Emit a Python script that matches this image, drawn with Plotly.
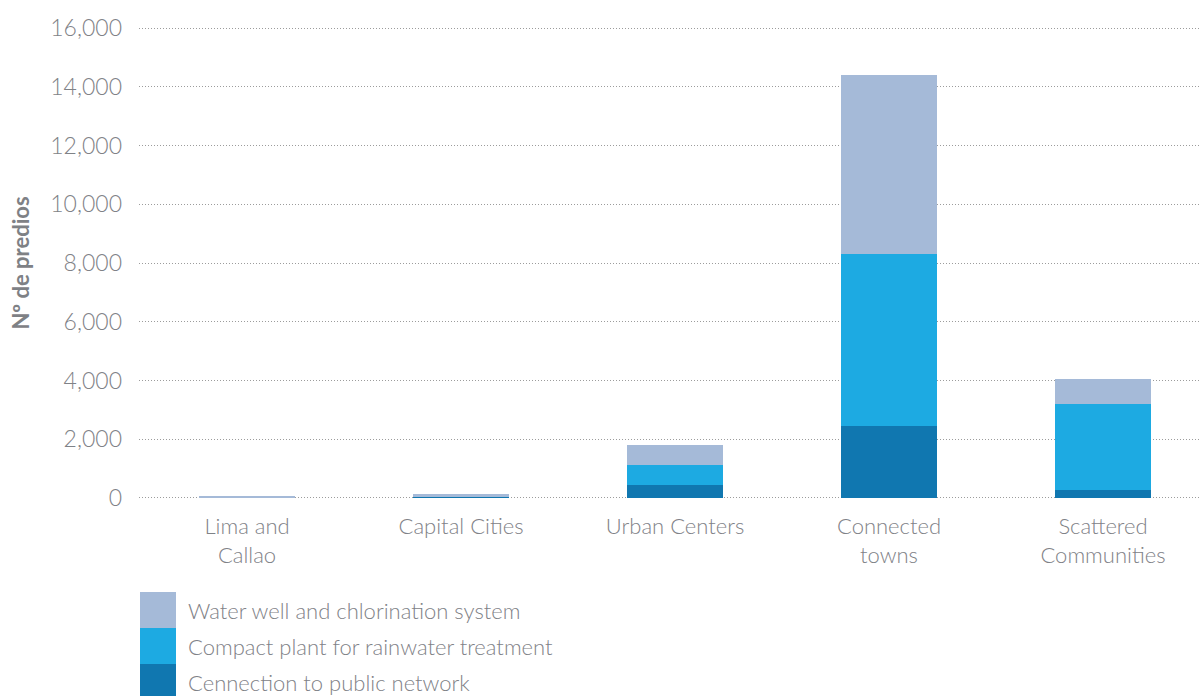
import plotly.graph_objects as go

# Categories and stacked series (number of properties)
categories = ["Lima and<br>Callao", "Capital Cities", "Urban Centers", "Connected<br>towns", "Scattered<br>Communities"]
connection_public = [0, 50, 450, 2450, 280]
compact_plant = [0, 0, 680, 5850, 2920]
water_well = [70, 100, 680, 6100, 850]
y_ticks = [0, 2000, 4000, 6000, 8000, 10000, 12000, 14000, 16000]

series = [
    ("Cennection to public network", connection_public, "#1077B0"),
    ("Compact plant for rainwater treatment", compact_plant, "#1DAAE2"),
    ("Water well and chlorination system", water_well, "#A5BAD8"),
]

TEXT = "#7F8287"
FONT = "Lato"
W, H = 1201, 696
M_L, M_R, M_T, M_B = 139, 0, 27, 197
PLOT_H = H - M_T - M_B
PLOT_W = W - M_L - M_R

fig = go.Figure()
for name, vals, color in series:
    fig.add_trace(go.Bar(x=categories, y=vals, name=name, marker=dict(color=color, line=dict(width=0)),
                         showlegend=False))

# Legend drawn as large swatches with labels below the plot
def px_to_paper_y(py):
    return (H - M_B - py) / PLOT_H

def px_to_paper_x(px):
    return (px - M_L) / PLOT_W

legend_items = list(reversed(series))
shapes = []
annotations = []
for i, (name, vals, color) in enumerate(legend_items):
    top = 592 + 36 * i
    shapes.append(dict(type="rect", xref="paper", yref="paper",
                       x0=px_to_paper_x(140), x1=px_to_paper_x(176),
                       y0=px_to_paper_y(top + 36), y1=px_to_paper_y(top),
                       fillcolor=color, line=dict(width=0)))
    annotations.append(dict(xref="paper", yref="paper", x=px_to_paper_x(186), y=px_to_paper_y(top + 18),
                            text=name, showarrow=False, xanchor="left", yanchor="middle",
                            font=dict(family=FONT, size=22, color=TEXT, weight=300)))

fig.update_layout(
    barmode="stack",
    bargap=0.55,
    width=W, height=H,
    margin=dict(l=M_L, r=M_R, t=M_T, b=M_B, pad=0),
    paper_bgcolor="white",
    plot_bgcolor="white",
    font=dict(family=FONT, size=22, color=TEXT),
    shapes=shapes,
    annotations=annotations,
    xaxis=dict(
        range=[-0.505, 4.458],
        showgrid=False, showline=False, zeroline=False,
        tickfont=dict(family=FONT, size=22, color=TEXT, weight=300),
        ticks="outside", ticklen=8, tickcolor="rgba(0,0,0,0)",
    ),
    yaxis=dict(
        range=[-35, 16035],
        tickvals=y_ticks,
        tickformat=",d",
        showgrid=True, gridcolor="#9C9C9C", griddash="1px,2px", gridwidth=1,
        zeroline=False, showline=False,
        tickfont=dict(family=FONT, size=23, color=TEXT, weight=300),
        ticklabelstandoff=16,
        title=dict(text="<b>Nº de predios</b>", font=dict(family=FONT, size=22, color="#7E8185"), standoff=14),
    ),
)

fig.write_html("out.html")
